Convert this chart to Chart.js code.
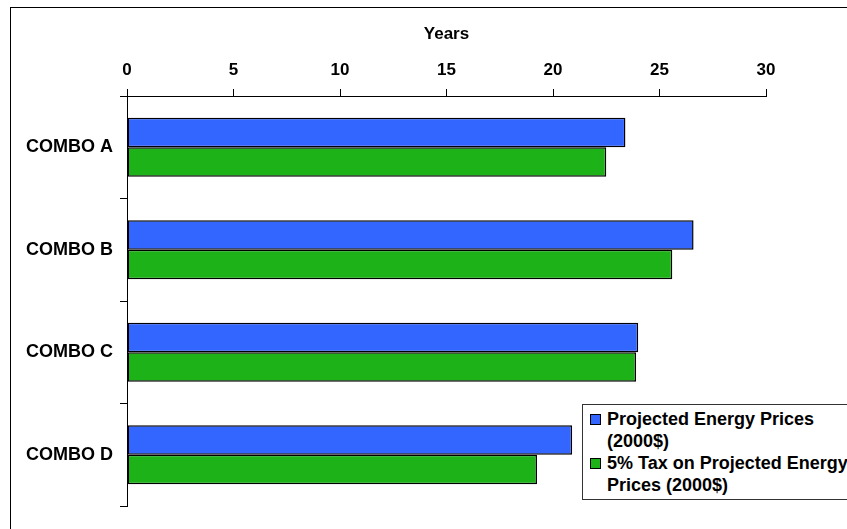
<!DOCTYPE html>
<html>
<head>
<meta charset="utf-8">
<script src="https://cdn.jsdelivr.net/npm/chart.js@4/dist/chart.umd.min.js"></script>
<style>
	html, body { margin: 0; padding: 0; width: 847px; height: 529px; overflow: hidden; background: #fff; }
	.frame { position: absolute; left: 10px; top: 7px; width: 900px; height: 600px; border-left: 1px solid #000; border-top: 1px solid #000; }
	#chart { position: absolute; left: 0; top: 0; }
	.legend { position: absolute; left: 582px; top: 404px; width: 300px; height: 96px; border: 1px solid #333; background: #fff;
		font: bold 18px 'Liberation Sans', Arial, sans-serif; color: #000; padding-top: 3px; box-sizing: border-box; }
	.legend__item { display: flex; align-items: flex-start; padding-left: 7px; }
	.legend__box { width: 9px; height: 9px; border: 1px solid #000; margin-top: 6px; margin-right: 6px; flex: none; }
	.legend__text { width: 265px; line-height: 22px; }
</style>
</head>
<body>
<div class="frame"></div>
<canvas id="chart" width="847" height="529"></canvas>
<div class="legend"></div>
<script>
const categories = ['COMBO A', 'COMBO B', 'COMBO C', 'COMBO D'];
const seriesNames = ['Projected Energy Prices (2000$)', '5% Tax on Projected Energy Prices (2000$)'];
const projectedPrices = [23.4, 26.6, 24.0, 20.9];
const taxPrices = [22.5, 25.6, 23.9, 19.25];
const xTicks = [0, 5, 10, 15, 20, 25, 30];

const colors = ['#3366ff', '#1db318'];
const font = "'Liberation Sans', Arial, sans-serif";

const datasets = [projectedPrices, taxPrices].map((values, i) => ({
	label: seriesNames[i],
	data: values,
	backgroundColor: colors[i],
	borderColor: '#000',
	borderWidth: 1.5,
	borderSkipped: false,
	categoryPercentage: 0.576,
	barPercentage: 1,
}));

const config = {
	type: 'bar',
	data: { labels: categories, datasets },
	options: {
		indexAxis: 'y',
		responsive: false,
		animation: false,
		layout: { padding: { top: 0, right: 81, bottom: 23, left: 0 } },
		plugins: {
			legend: { display: false },
			tooltip: { enabled: false },
		},
		scales: {
			x: {
				position: 'top',
				min: 0,
				max: 30,
				afterFit: (scale) => { scale.height = 96; },
				afterBuildTicks: (scale) => { scale.ticks = xTicks.map((v) => ({ value: v })); },
				title: {
					display: true,
					text: 'Years',
					color: '#000',
					padding: { top: 24, bottom: 0 },
					font: { family: font, size: 17, weight: 'bold' },
				},
				ticks: {
					color: '#000',
					padding: 8,
					font: { family: font, size: 17, weight: 'bold' },
				},
				grid: { drawOnChartArea: false, tickLength: 7, color: '#000' },
				border: { display: true, color: '#000', width: 1 },
			},
			y: {
				afterFit: (scale) => { scale.width = 127; },
				ticks: {
					color: '#000',
					padding: 7,
					font: { family: font, size: 18, weight: 'bold' },
				},
				grid: { offset: true, drawOnChartArea: false, tickLength: 7, color: '#000' },
				border: { display: true, color: '#000', width: 1 },
			},
		},
	},
};

new Chart(document.getElementById('chart'), config);

const $legend = document.querySelector('.legend');
$legend.innerHTML = datasets
	.map((ds) => `<div class="legend__item"><span class="legend__box" style="background:${ds.backgroundColor}"></span><span class="legend__text">${ds.label}</span></div>`)
	.join('');
</script>
</body>
</html>
